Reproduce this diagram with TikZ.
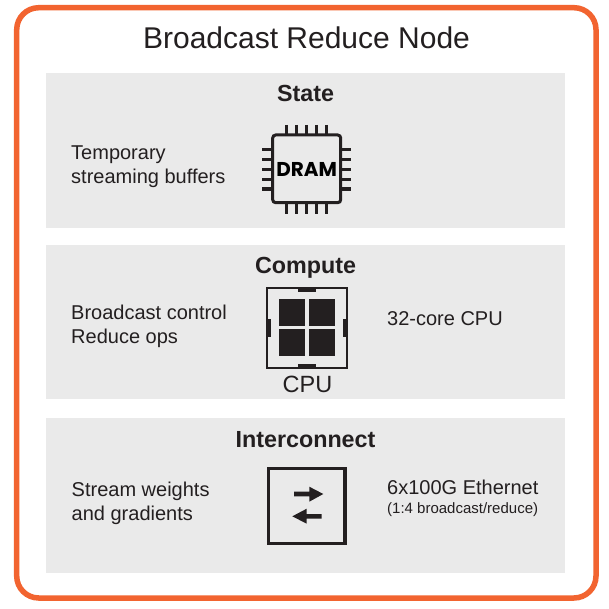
\documentclass[tikz,border=0pt]{standalone}
\usepackage{fontspec}
\setmainfont{Liberation Sans}
\newfontfamily\dramfont{Poppins}
\definecolor{accent}{HTML}{F26430}
\definecolor{panelgray}{HTML}{EAEAEA}
\definecolor{inkdark}{HTML}{231F20}
\tikzset{
  panel/.style={fill=panelgray,draw=none},
  frame/.style={draw=accent,line width=5.5pt,rounded corners=22pt,fill=white},
  headtext/.style={font=\fontsize{23.3}{25}\selectfont\bfseries,text=inkdark,anchor=base,inner sep=0pt},
  bodytext/.style={font=\fontsize{20}{24}\selectfont,text=inkdark,anchor=base west,inner sep=0pt},
  smalltext/.style={font=\fontsize{15}{16}\selectfont,text=inkdark,anchor=base west,inner sep=0pt},
  pin/.style={draw=inkdark,line width=3.3pt},
  solid ink/.style={fill=inkdark,draw=none},
}
\begin{document}
\begin{tikzpicture}[x=1pt,y=-1pt]
\useasboundingbox (0,0) rectangle (608,609);
\fill[white] (0,0) rectangle (608,609);
\draw[frame] (16.7,7.7) rectangle (596,598);
\node[font=\fontsize{30}{34}\selectfont,text=inkdark,anchor=base,inner sep=0pt] (title) at (306.5,49) {Broadcast Reduce Node};
% panels
\fill[panel] (46,73) rectangle (565,228);
\fill[panel] (46,245) rectangle (565,399);
\fill[panel] (46,418) rectangle (565,573);
% headings
\node[headtext] (h1) at (305.5,102) {State};
\node[headtext] (h2) at (305.5,273) {Compute};
\node[headtext] (h3) at (305.5,447) {Interconnect};
% left texts
\node[bodytext] (t1a) at (71,160) {Temporary};
\node[bodytext] (t1b) at (71,184) {streaming buffers};
\node[bodytext] (t2a) at (71,319) {Broadcast control};
\node[bodytext] (t2b) at (71,343) {Reduce ops};
\node[bodytext] (t3a) at (71.5,496) {Stream weights};
\node[bodytext] (t3b) at (71.5,520) {and gradients};
% right texts
\node[bodytext] (r2) at (387,325) {32-core CPU};
\node[bodytext] (r3) at (387,494) {6x100G Ethernet};
\node[smalltext] (r3b) at (387,513) {(1:4 broadcast/reduce)};
% DRAM chip
\draw[inkdark,line width=3pt,rounded corners=3pt] (272.7,135) rectangle (340.7,202.7);
\foreach \x in {286.7,296.7,306.7,316.7,326.7}{
  \draw[pin] (\x,125) -- (\x,135);
  \draw[pin] (\x,203) -- (\x,214);
}
\foreach \y in {149.3,159.3,169.3,179.3,189}{
  \draw[pin] (262,\y) -- (272.7,\y);
  \draw[pin] (340.7,\y) -- (351,\y);
}
\node[font=\fontsize{20}{20}\dramfont\bfseries,text=black,inner sep=0pt,anchor=base] (dram) at (306.7,176.5) {DRAM};
% CPU
\draw[inkdark,line width=2pt] (267,288) rectangle (347,367.5);
\fill[solid ink] (279,299.3) rectangle (305.3,325.7);
\fill[solid ink] (309,299.3) rectangle (335.3,325.7);
\fill[solid ink] (279,329.3) rectangle (305,356);
\fill[solid ink] (309,329.3) rectangle (335.3,356);
\fill[solid ink] (298.3,288) rectangle (315.7,292);
\fill[solid ink] (298.3,363.5) rectangle (315.7,367.5);
\fill[solid ink] (267,319) rectangle (271,336.7);
\fill[solid ink] (343,319) rectangle (347,336.7);
\node[font=\fontsize{23.5}{25}\selectfont,text=inkdark,anchor=base,inner sep=0pt] (cpu) at (307.5,392) {CPU};
% switch
\draw[inkdark,line width=3.5pt] (268.5,468.5) rectangle (345,543.3);
\fill[solid ink] (294,491.7) -- (309.3,491.7) -- (309.3,486.7) -- (323.3,494) -- (309.3,501.7) -- (309.3,496.3) -- (294,496.3) -- cycle;
\fill[solid ink] (321.7,514) -- (306.7,514) -- (306.7,508.7) -- (292.3,516.3) -- (306.7,523.7) -- (306.7,518.7) -- (321.7,518.7) -- cycle;
\end{tikzpicture}
\end{document}
